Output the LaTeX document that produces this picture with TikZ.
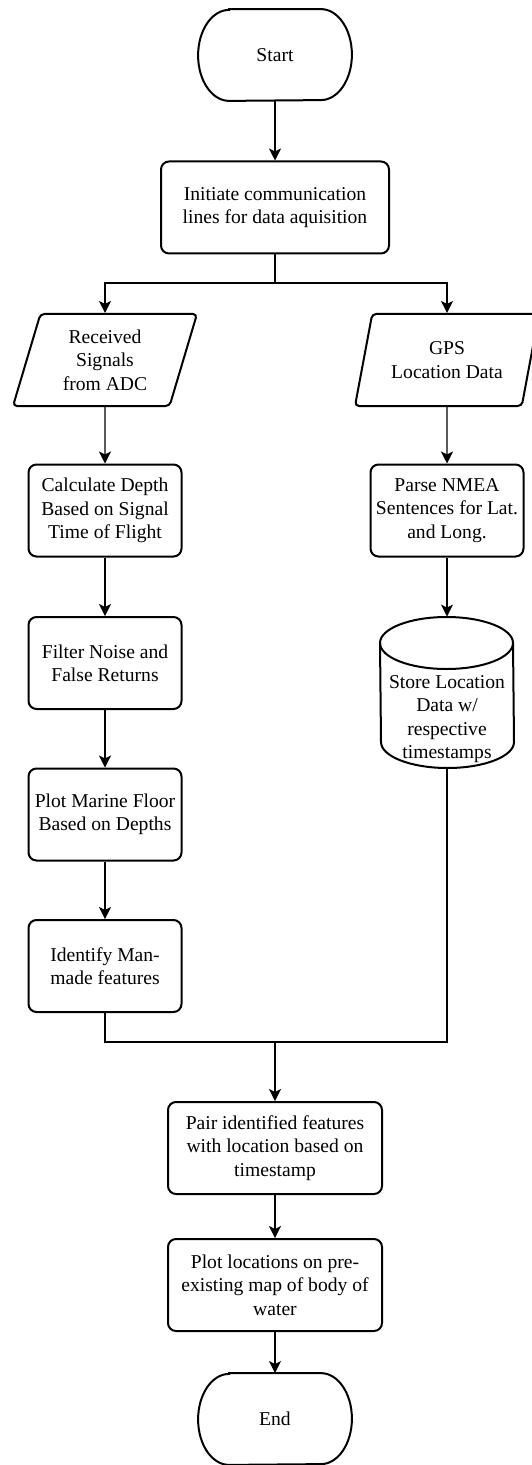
\documentclass[tikz,border=0pt]{standalone}
\usepackage{fontspec}
\setmainfont{Liberation Serif}
\usetikzlibrary{arrows.meta,shapes.geometric}

% outline of a start/end terminal round a node
\newcommand{\termline}[1]{%
  \draw[line width=1pt] ([xshift=15.5pt]#1.north west) -- ([xshift=-15.5pt]#1.north east)
    arc[start angle=90, end angle=-90, x radius=15.5pt, y radius=22.75pt]
    -- ([xshift=15.5pt]#1.south west)
    arc[start angle=270, end angle=90, x radius=15.5pt, y radius=22.75pt] -- cycle;}

\begin{document}
\begin{tikzpicture}[x=0.5pt, y=-0.5pt, >={Stealth[length=6pt,width=6pt,inset=1.5pt]},
    every node/.style={font=\rmfamily\fontsize{9.8}{11.7}\selectfont, align=center, inner sep=1pt},
    term/.style={minimum width=76.5pt, minimum height=45.5pt},
    proc/.style={draw, line width=1pt, rounded corners=4pt, minimum width=76.5pt, minimum height=46pt},
    wideproc/.style={proc, minimum width=107pt},
    io/.style={draw, line width=1pt, rounded corners=2pt, trapezium, trapezium left angle=67,
      trapezium right angle=113, trapezium stretches body, minimum width=92pt, minimum height=46pt},
    store/.style={minimum width=66.5pt, minimum height=75.5pt},
    flow/.style={->, line width=0.6pt},
    link/.style={line width=0.6pt}]
  \useasboundingbox (0,0) rectangle (531,1465);

  % top
  \node[term] (start) at (275,55) {Start};
  \termline{start}
  \node[proc, minimum width=114pt] (init) at (275,207.5) {Initiate communication\\lines for data aquisition};
  \coordinate (split) at (275,283);

  % sonar branch
  \node[io] (recv) at (105,360) {Received\\Signals\\from ADC};
  \node[proc] (calc) at (105,510.5) {Calculate Depth\\Based on Signal\\Time of Flight};
  \node[proc] (filter) at (105,663) {Filter Noise and\\False Returns};
  \node[proc] (floor) at (105,814.5) {Plot Marine Floor\\Based on Depths};
  \node[proc] (ident) at (105,966) {Identify Man-\\made features};

  % gps branch
  \node[io] (gps) at (447,360) {GPS\\Location Data};
  \node[proc] (parse) at (447,510.5) {Parse NMEA\\Sentences for Lat.\\and Long.};
  \node[store] (store) at (447,692.5) {};
  \draw[line width=1pt] (380,643) arc[start angle=180, end angle=0, x radius=33.25pt, y radius=13pt]
    -- (514,742) arc[start angle=0, end angle=-180, x radius=33.25pt, y radius=13pt] -- cycle;
  \draw[line width=1pt] (380,643) arc[start angle=180, end angle=360, x radius=33.25pt, y radius=13pt];
  \node at (447,719) {Store Location\\Data w/\\respective\\timestamps};

  % bottom
  \coordinate (merge) at (275,1042);
  \node[wideproc] (pair) at (275,1148) {Pair identified features\\with location based on\\timestamp};
  \node[wideproc] (plotloc) at (275,1285) {Plot locations on pre-\\existing map of body of\\water};
  \node[term] (end) at (275,1419) {End};
  \termline{end}

  % connectors
  \draw[flow] (start) -- (init);
  \draw[link] (init) -- (split);
  \draw[flow] (split) -| (recv);
  \draw[flow] (split) -| (gps);
  \draw[flow] (recv) -- (calc);
  \draw[flow] (calc) -- (filter);
  \draw[flow] (filter) -- (floor);
  \draw[flow] (floor) -- (ident);
  \draw[flow] (gps) -- (parse);
  \draw[flow] (parse) -- (store);
  \draw[link] (ident) |- (merge) -| (store);
  \draw[flow] (merge) -- (pair);
  \draw[flow] (pair) -- (plotloc);
  \draw[flow] (plotloc) -- (end);
\end{tikzpicture}
\end{document}
